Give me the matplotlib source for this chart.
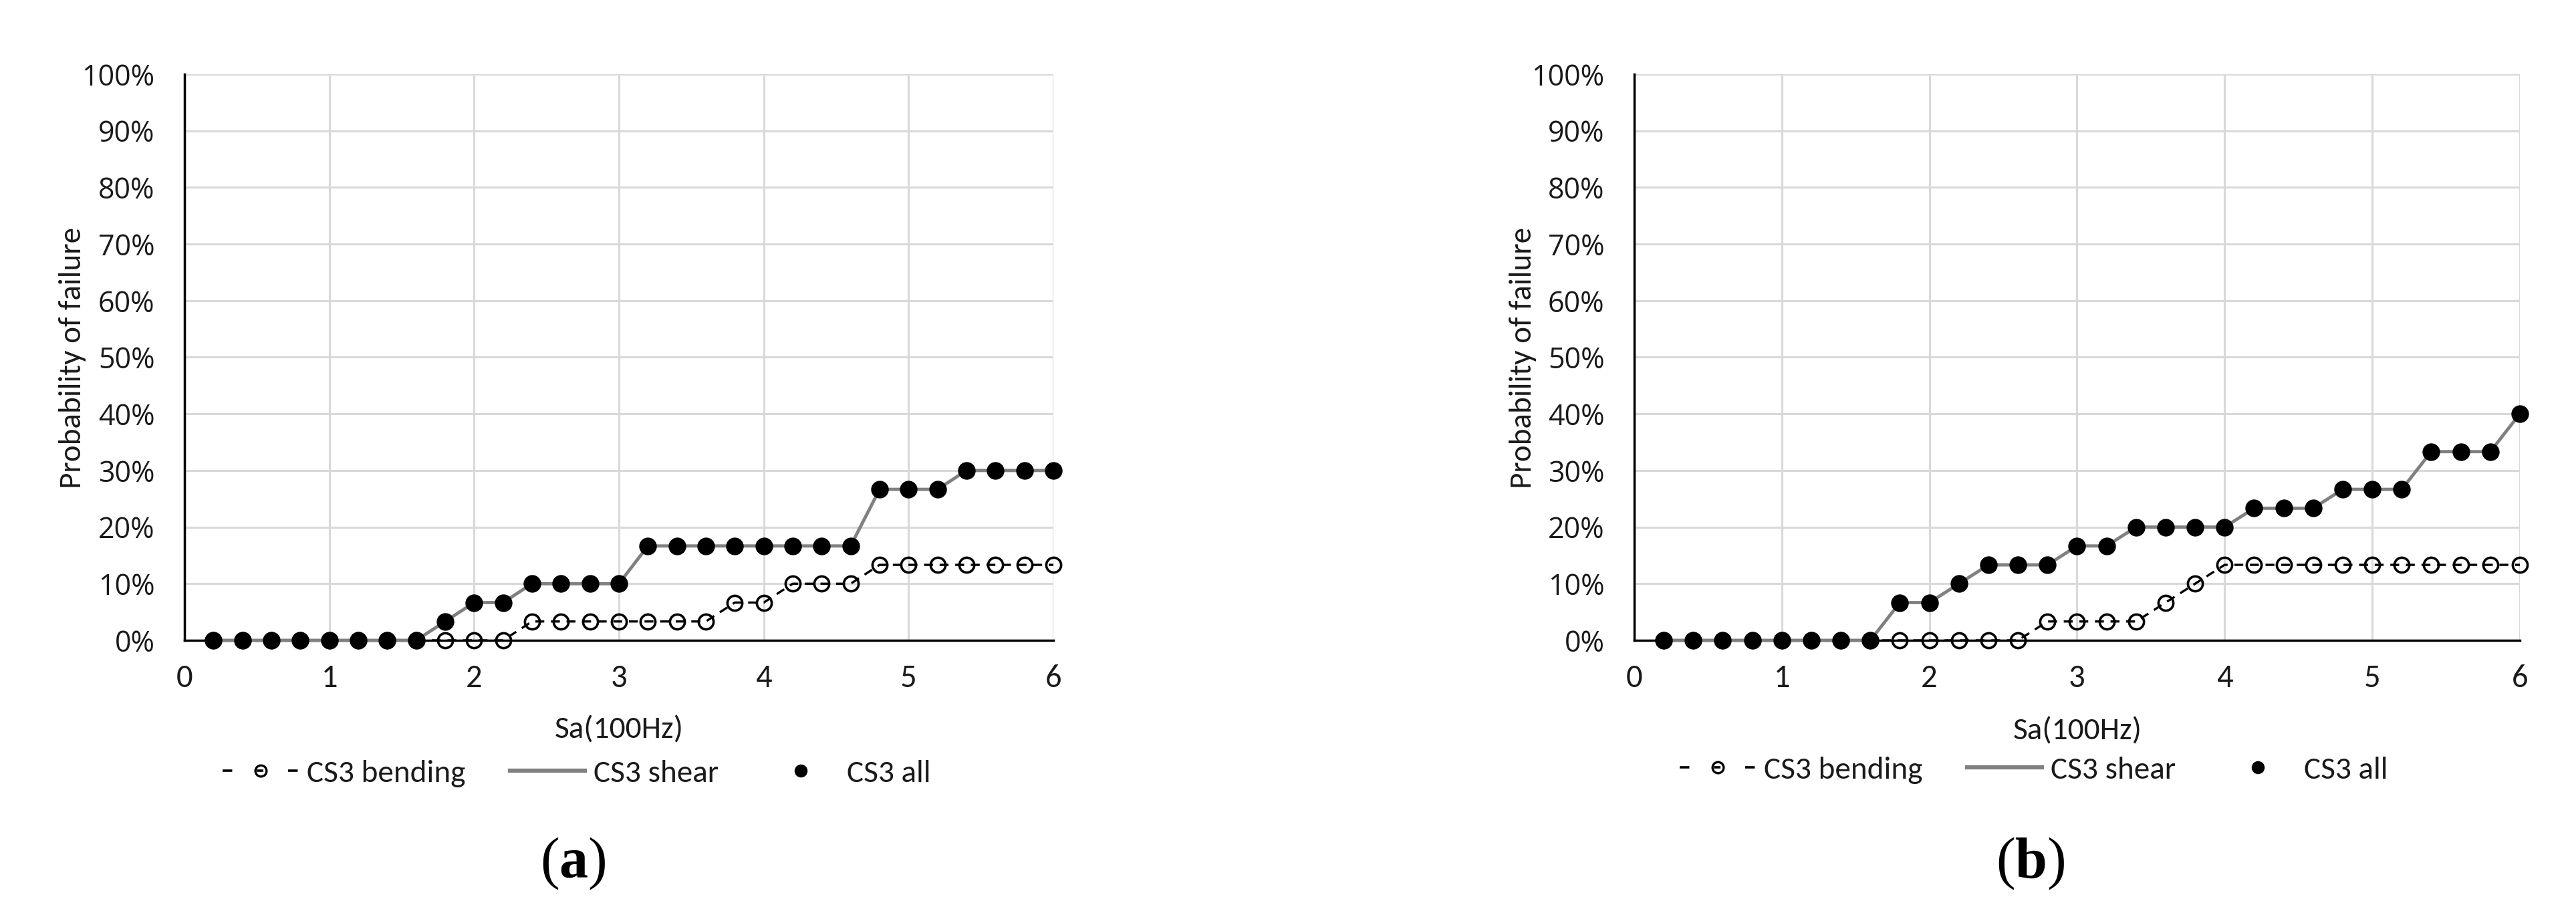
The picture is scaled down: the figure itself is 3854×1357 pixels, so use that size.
import matplotlib
matplotlib.use("Agg")
import matplotlib.pyplot as plt
from matplotlib import font_manager
from matplotlib.lines import Line2D
from matplotlib.ticker import PercentFormatter, MultipleLocator

# ---------------- data ----------------
sa = [0.2, 0.4, 0.6, 0.8, 1.0, 1.2, 1.4, 1.6, 1.8, 2.0,
      2.2, 2.4, 2.6, 2.8, 3.0, 3.2, 3.4, 3.6, 3.8, 4.0,
      4.2, 4.4, 4.6, 4.8, 5.0, 5.2, 5.4, 5.6, 5.8, 6.0]

a_bending = [0, 0, 0, 0, 0, 0, 0, 0, 0, 0,
             0, 0.0333, 0.0333, 0.0333, 0.0333, 0.0333, 0.0333, 0.0333, 0.0667, 0.0667,
             0.1, 0.1, 0.1, 0.1333, 0.1333, 0.1333, 0.1333, 0.1333, 0.1333, 0.1333]
a_shear = [0, 0, 0, 0, 0, 0, 0, 0, 0.0333, 0.0667,
           0.0667, 0.1, 0.1, 0.1, 0.1, 0.1667, 0.1667, 0.1667, 0.1667, 0.1667,
           0.1667, 0.1667, 0.1667, 0.2667, 0.2667, 0.2667, 0.3, 0.3, 0.3, 0.3]
a_all = [0, 0, 0, 0, 0, 0, 0, 0, 0.0333, 0.0667,
         0.0667, 0.1, 0.1, 0.1, 0.1, 0.1667, 0.1667, 0.1667, 0.1667, 0.1667,
         0.1667, 0.1667, 0.1667, 0.2667, 0.2667, 0.2667, 0.3, 0.3, 0.3, 0.3]

b_bending = [0, 0, 0, 0, 0, 0, 0, 0, 0, 0,
             0, 0, 0, 0.0333, 0.0333, 0.0333, 0.0333, 0.0667, 0.1, 0.1333,
             0.1333, 0.1333, 0.1333, 0.1333, 0.1333, 0.1333, 0.1333, 0.1333, 0.1333, 0.1333]
b_shear = [0, 0, 0, 0, 0, 0, 0, 0, 0.0667, 0.0667,
           0.1, 0.1333, 0.1333, 0.1333, 0.1667, 0.1667, 0.2, 0.2, 0.2, 0.2,
           0.2333, 0.2333, 0.2333, 0.2667, 0.2667, 0.2667, 0.3333, 0.3333, 0.3333, 0.4]
b_all = [0, 0, 0, 0, 0, 0, 0, 0, 0.0667, 0.0667,
         0.1, 0.1333, 0.1333, 0.1333, 0.1667, 0.1667, 0.2, 0.2, 0.2, 0.2,
         0.2333, 0.2333, 0.2333, 0.2667, 0.2667, 0.2667, 0.3333, 0.3333, 0.3333, 0.4]

legend_labels = ["CS3 bending", "CS3 shear", "CS3 all"]
x_label = "Sa(100Hz)"
y_label = "Probability of failure"
panel_tags = ["a", "b"]

# ---------------- fonts ----------------
names = {f.name for f in font_manager.fontManager.ttflist}
narrow = "Carlito" if "Carlito" in names else "Open Sans"
tickfont = "Open Sans" if "Open Sans" in names else "DejaVu Sans"
plt.rcParams["mathtext.fontset"] = "custom"
plt.rcParams["mathtext.rm"] = "Liberation Serif"
plt.rcParams["mathtext.bf"] = "Liberation Serif:bold"

W, H = 3855, 1357
fig = plt.figure(figsize=(W / 100, H / 100), dpi=100)


def rect(x0, y0, x1, y1):
    return [x0 / W, 1 - y1 / H, (x1 - x0) / W, (y1 - y0) / H]


panels = [
    dict(rect=rect(276, 111, 1576, 958), bending=a_bending, shear=a_shear, allv=a_all,
         ylab=(109, 535), xlab=(926, 1092), leg=(863, 1157), tag=(857, 1292), tagtext=panel_tags[0]),
    dict(rect=rect(2445, 111, 3770, 958), bending=b_bending, shear=b_shear, allv=b_all,
         ylab=(2279, 535), xlab=(3108, 1094), leg=(3043, 1152), tag=(3038, 1292), tagtext=panel_tags[1]),
]

GRID = "#d9d9d9"
GRAY = "#808080"
TXT = "#1a1a1a"
LEG_FS = 34
HANDLE_LEN = 2.38

for p in panels:
    ax = fig.add_axes(p["rect"])
    ax.plot(sa, p["bending"], color="black", lw=2.4, dashes=(4, 3), marker="o", ms=16,
            mfc="none", mec="black", mew=2.6, clip_on=False, zorder=3)
    ax.plot(sa, p["shear"], color=GRAY, lw=3.5, clip_on=False, zorder=4)
    ax.plot(sa, p["allv"], ls="none", marker="o", ms=18, color="black", clip_on=False, zorder=5)

    ax.set_xlim(0, 6)
    ax.set_ylim(0, 1)
    ax.xaxis.set_major_locator(MultipleLocator(1))
    ax.yaxis.set_major_locator(MultipleLocator(0.1))
    ax.yaxis.set_major_formatter(PercentFormatter(1.0, decimals=0))
    ax.grid(True, color=GRID, lw=2.2, zorder=0)
    ax.set_axisbelow(True)
    for s in ("top", "right"):
        ax.spines[s].set_visible(False)
    for s in ("left", "bottom"):
        ax.spines[s].set_color("black")
        ax.spines[s].set_linewidth(2.5)
    ax.tick_params(axis="both", length=0)
    ax.tick_params(axis="x", pad=26)
    ax.tick_params(axis="y", pad=32)
    for lab in ax.get_xticklabels():
        lab.set_fontfamily(narrow)
        lab.set_fontsize(35)
        lab.set_color(TXT)
    for lab in ax.get_yticklabels():
        lab.set_fontfamily(tickfont)
        lab.set_fontsize(31)
        lab.set_color(TXT)

    fig.text(p["ylab"][0] / W, 1 - p["ylab"][1] / H, y_label, rotation=90, ha="center", va="center",
             fontsize=34, family=narrow, color=TXT)
    fig.text(p["xlab"][0] / W, 1 - p["xlab"][1] / H, x_label, ha="center", va="center",
             fontsize=34, family=narrow, color=TXT)

    # legend handle: dash at each end, short dash inside the marker (theta look)
    hl_pt = HANDLE_LEN * LEG_FS
    lw_h = 2.6
    dash_pt = 10.4
    mid_pt = 7.0
    gap_pt = (hl_pt - 2 * dash_pt - mid_pt) / 2
    h1 = Line2D([], [], color="black", lw=lw_h,
                dashes=(dash_pt / lw_h, gap_pt / lw_h, mid_pt / lw_h, gap_pt / lw_h),
                marker="o", ms=12, mfc="none", mec="black", mew=2.4)
    h2 = Line2D([], [], color=GRAY, lw=4.5)
    h3 = Line2D([], [], ls="none", marker="o", ms=13, color="black")
    fig.legend([h1, h2, h3], legend_labels, loc="center",
               bbox_to_anchor=(p["leg"][0] / W, 1 - p["leg"][1] / H), ncol=3, frameon=False,
               prop={"family": narrow, "size": LEG_FS}, handlelength=HANDLE_LEN, handletextpad=0.28,
               columnspacing=1.4, numpoints=1, labelcolor=TXT)

    fig.text(p["tag"][0] / W, 1 - p["tag"][1] / H,
             r"$\mathrm{(}\mathbf{" + p["tagtext"] + r"}\mathrm{)}$",
             ha="center", va="center", fontsize=62)

fig.savefig("out.png", dpi=100)
